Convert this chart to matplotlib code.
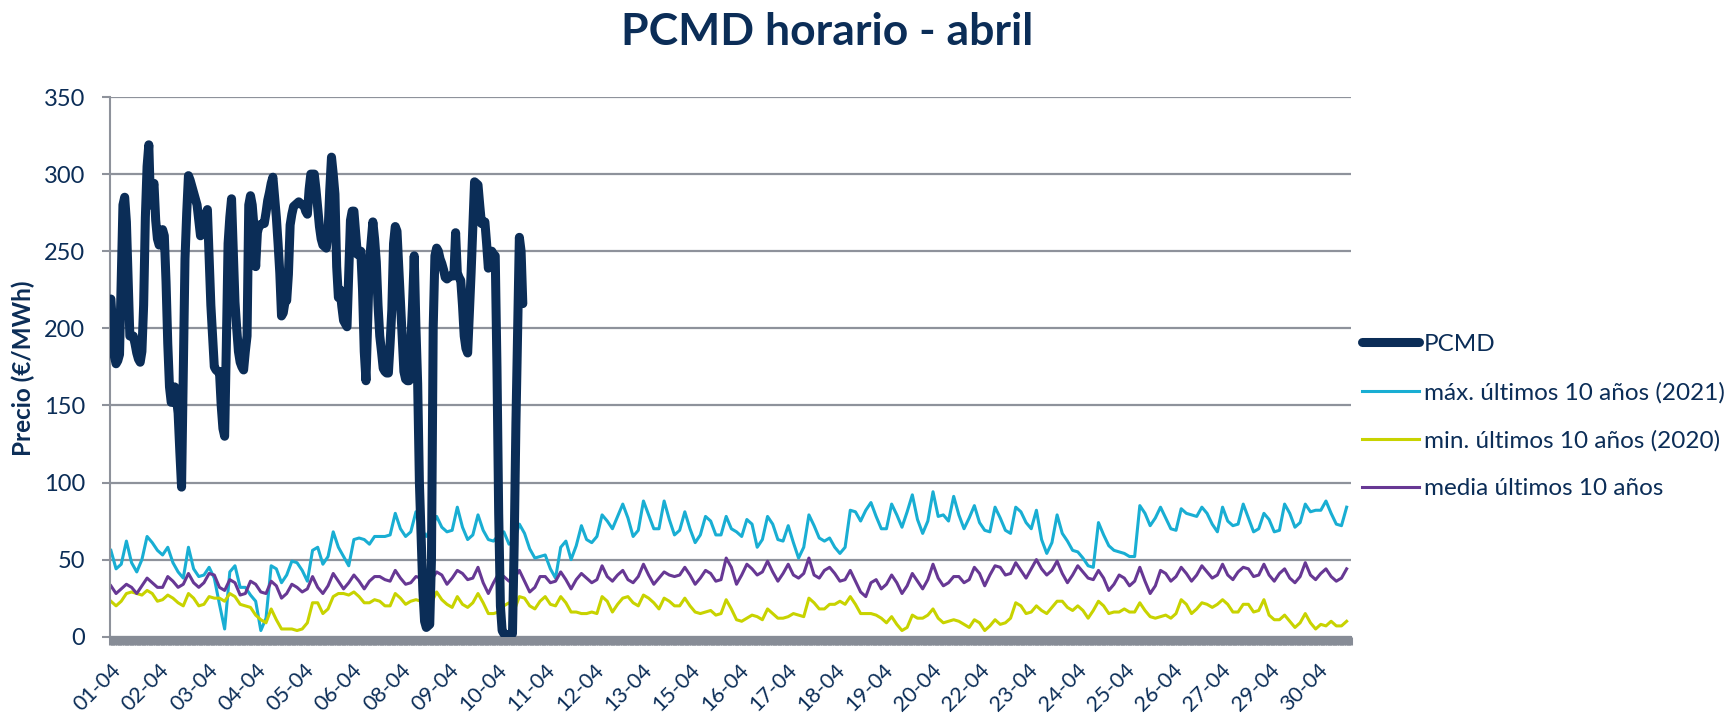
import numpy as np
import matplotlib
matplotlib.use("Agg")
import matplotlib.pyplot as plt
from matplotlib.lines import Line2D

plt.rcParams['font.family'] = ['Lato', 'DejaVu Sans']

NAVY = "#0B2D57"
CYAN = "#19AED3"
YELLOW = "#C8D300"
PURPLE = "#673894"
GRID = "#8E929B"

# PCMD, hourly values 01-04 .. 10-04 (EUR/MWh)
pcmd = [
    219, 200, 182, 177, 179, 183, 230, 280, 285, 269, 232, 195, 195, 195, 190, 184, 180, 178, 185, 215, 272, 305, 319, 280,
    290, 294, 270, 258, 254, 256, 264, 260, 230, 190, 162, 152, 152, 162, 155, 145, 120, 97, 170, 245, 275, 299, 296, 292,
    288, 284, 280, 270, 260, 262, 270, 274, 277, 245, 215, 195, 175, 173, 172, 172, 150, 135, 130, 190, 255, 272, 284, 250,
    217, 200, 185, 178, 175, 173, 185, 195, 280, 286, 280, 266, 240, 262, 267, 267, 268, 268, 275, 283, 288, 294, 298, 285,
    272, 255, 236, 208, 210, 217, 218, 235, 267, 274, 279, 280, 281, 282, 281, 280, 280, 276, 274, 290, 300, 300, 300, 290,
    278, 266, 258, 254, 253, 252, 262, 290, 311, 300, 287, 240, 220, 225, 214, 205, 203, 201, 235, 270, 276, 276, 262, 248,
    248, 250, 225, 185, 166, 205, 243, 256, 269, 258, 243, 215, 195, 185, 174, 172, 171, 171, 190, 212, 255, 266, 263, 240,
    217, 195, 172, 167, 166, 166, 190, 215, 247, 200, 164, 100, 65, 30, 10, 6, 7, 8, 50, 200, 247, 252, 250, 245,
    242, 238, 233, 232, 233, 234, 234, 234, 262, 236, 233, 231, 215, 195, 187, 184, 210, 236, 265, 295, 294, 293, 280, 268,
    268, 269, 255, 239, 245, 250, 248, 247, 175, 80, 20, 4, 2, 1, 1, 1, 2, 2, 60, 138, 200, 259, 250, 216,
]

# historical series, one value every 3 hours (8 per day)
max_2021 = [
    56, 44, 47, 62, 48, 42, 50, 65,
    61, 56, 53, 58, 48, 42, 38, 58,
    44, 39, 40, 45, 38, 21, 5, 42,
    46, 32, 32, 27, 23, 4, 12, 46,
    44, 35, 40, 49, 48, 43, 36, 56,
    58, 47, 52, 68, 58, 52, 46, 63,
    64, 63, 60, 65, 65, 65, 66, 80,
    70, 65, 68, 81, 70, 65, 71, 78,
    71, 68, 69, 84, 71, 63, 66, 79,
    69, 63, 62, 66, 68, 60, 62, 73,
    67, 57, 51, 52, 53, 44, 38, 58,
    62, 50, 59, 72, 63, 61, 65, 79,
    75, 70, 78, 86, 77, 65, 69, 88,
    79, 70, 70, 88, 76, 66, 69, 81,
    70, 61, 66, 78, 75, 66, 66, 78,
    70, 68, 65, 76, 73, 58, 63, 78,
    73, 63, 62, 72, 61, 51, 58, 79,
    72, 64, 62, 64, 58, 54, 58, 82,
    81, 75, 82, 87, 78, 70, 70, 86,
    79, 71, 81, 92, 76, 67, 75, 94,
    78, 79, 75, 91, 79, 70, 77, 85,
    74, 69, 68, 84, 77, 69, 67, 84,
    81, 74, 70, 82, 63, 54, 61, 79,
    67, 62, 56, 55, 51, 46, 45, 74,
    66, 59, 56, 55, 54, 52, 52, 85,
    80, 72, 77, 84, 77, 70, 69, 83,
    80, 79, 78, 84, 80, 73, 68, 84,
    75, 72, 73, 86, 77, 68, 70, 80,
    76, 68, 69, 86, 80, 71, 74, 86,
    81, 82, 82, 88, 80, 73, 72, 84,
]

min_2020 = [
    23, 20, 23, 28, 29, 28, 27, 30,
    28, 23, 24, 27, 25, 22, 20, 28,
    25, 20, 21, 26, 25, 25, 23, 28,
    26, 21, 20, 19, 14, 11, 9, 18,
    11, 5, 5, 5, 4, 5, 9, 22,
    22, 15, 18, 26, 28, 28, 27, 29,
    26, 22, 22, 24, 23, 20, 20, 28,
    25, 21, 23, 24, 23, 24, 22, 29,
    24, 21, 19, 26, 21, 19, 22, 28,
    22, 15, 15, 16, 20, 22, 17, 26,
    25, 20, 18, 23, 26, 21, 20, 26,
    22, 16, 16, 15, 15, 16, 15, 26,
    23, 16, 21, 25, 26, 22, 20, 27,
    25, 22, 18, 25, 23, 20, 20, 25,
    20, 16, 15, 16, 17, 14, 15, 24,
    18, 11, 10, 12, 14, 13, 11, 18,
    15, 12, 12, 13, 15, 14, 13, 25,
    22, 18, 18, 21, 21, 23, 21, 26,
    21, 15, 15, 15, 14, 12, 9, 13,
    8, 4, 6, 14, 12, 12, 14, 18,
    12, 9, 10, 11, 10, 8, 6, 11,
    9, 4, 7, 11, 8, 9, 12, 22,
    20, 15, 16, 20, 17, 15, 19, 23,
    23, 19, 17, 20, 17, 12, 17, 23,
    20, 15, 16, 16, 18, 16, 16, 22,
    17, 13, 12, 13, 14, 12, 15, 24,
    21, 15, 18, 22, 21, 19, 21, 24,
    21, 16, 16, 21, 21, 16, 17, 24,
    14, 11, 11, 14, 10, 6, 9, 15,
    9, 5, 8, 7, 10, 7, 7, 10,
]

media_10 = [
    33, 28, 31, 34, 32, 28, 33, 38,
    35, 32, 32, 39, 36, 32, 34, 41,
    35, 32, 35, 41, 40, 32, 30, 37,
    35, 27, 28, 36, 34, 29, 28, 36,
    33, 25, 28, 34, 32, 29, 31, 39,
    32, 28, 33, 41, 36, 31, 35, 40,
    36, 31, 36, 39, 39, 37, 36, 43,
    38, 34, 35, 39, 38, 35, 37, 42,
    40, 34, 38, 43, 41, 37, 38, 45,
    35, 28, 35, 41, 39, 36, 38, 43,
    36, 29, 32, 39, 39, 35, 36, 42,
    37, 31, 37, 41, 38, 35, 37, 46,
    39, 36, 40, 43, 37, 35, 39, 47,
    40, 34, 38, 42, 40, 39, 40, 45,
    40, 34, 38, 43, 41, 36, 37, 51,
    45, 34, 40, 47, 44, 40, 42, 49,
    42, 36, 41, 47, 40, 38, 41, 51,
    40, 38, 43, 45, 41, 36, 37, 43,
    36, 29, 26, 35, 37, 31, 34, 40,
    35, 28, 33, 41, 36, 31, 37, 47,
    38, 33, 35, 39, 39, 35, 37, 45,
    41, 33, 40, 46, 45, 40, 41, 48,
    43, 38, 44, 50, 44, 40, 43, 49,
    41, 35, 40, 46, 42, 38, 37, 43,
    38, 30, 34, 40, 38, 33, 36, 45,
    36, 28, 33, 43, 41, 36, 39, 45,
    41, 36, 40, 46, 42, 38, 40, 47,
    40, 37, 42, 45, 44, 39, 40, 47,
    40, 36, 41, 44, 38, 35, 39, 48,
    40, 37, 41, 44, 39, 36, 38, 44,
]

tick_labels = ["01-04", "02-04", "03-04", "04-04", "05-04", "06-04", "08-04", "09-04",
               "10-04", "11-04", "12-04", "13-04", "15-04", "16-04", "17-04", "18-04",
               "19-04", "20-04", "22-04", "23-04", "24-04", "25-04", "26-04", "27-04",
               "29-04", "30-04"]
n_hours = 720
label_step = 28

hours_pcmd = np.arange(len(pcmd))
hours_hist = np.arange(len(max_2021)) * 3

fig = plt.figure(figsize=(17.3, 7.17), dpi=100)
ax = fig.add_axes([0.0636, 0.112, 0.7173, 0.7527])

ax.plot(hours_hist, max_2021, color=CYAN, lw=2.2, label="máx. últimos 10 años (2021)")
ax.plot(hours_hist, min_2020, color=YELLOW, lw=2.2, label="min. últimos 10 años (2020)")
ax.plot(hours_hist, media_10, color=PURPLE, lw=2.2, label="media últimos 10 años")
ax.plot(hours_pcmd, pcmd, color=NAVY, lw=6.5, solid_joinstyle="round",
        solid_capstyle="round", label="PCMD", zorder=5)

ax.set_xlim(-0.5, n_hours - 0.5)
ax.set_ylim(0, 350)
ax.set_yticks(range(0, 351, 50))
ax.yaxis.grid(True, color=GRID, lw=1.6)
ax.set_axisbelow(True)

for s in ["top", "right"]:
    ax.spines[s].set_visible(False)
ax.spines["left"].set_color(GRID)
ax.spines["left"].set_linewidth(1.5)
ax.spines["bottom"].set_color("#878C96")
ax.spines["bottom"].set_linewidth(1.5)

ax.tick_params(axis="y", colors=GRID, length=6, width=1.5, pad=12,
               labelcolor=NAVY, labelsize=17)
ax.set_xticks(np.arange(0, n_hours, label_step))
ax.set_xticklabels(tick_labels, rotation=45, ha="right", va="top",
                   rotation_mode="anchor", color=NAVY, fontsize=15.5)
ax.tick_params(axis="x", which="major", length=0, pad=17)
ax.set_xticks(np.arange(n_hours + 1) - 0.5, minor=True)
ax.tick_params(axis="x", which="minor", length=6, width=2.2, color="#878C96")

fig.text(827 / 1730, 1 - 32 / 717, "PCMD horario - abril", ha="center", va="center",
         fontsize=32, fontweight="bold", color=NAVY)
fig.text(23 / 1730, 1 - 368 / 717, "Precio (€/MWh)", rotation=90, ha="center",
         va="center", fontsize=17.5, fontweight="bold", color=NAVY)

handles = [
    Line2D([], [], color=NAVY, lw=6.5, solid_capstyle="round"),
    Line2D([], [], color=CYAN, lw=2.2),
    Line2D([], [], color=YELLOW, lw=2.2),
    Line2D([], [], color=PURPLE, lw=2.2),
]
labels = ["PCMD", "máx. últimos 10 años (2021)", "min. últimos 10 años (2020)",
          "media últimos 10 años"]
fig.legend(handles, labels, loc="center left", bbox_to_anchor=(1362 / 1730, 0.419),
           frameon=False, fontsize=17.5, labelcolor=NAVY, handlelength=2.35,
           handletextpad=0.2, labelspacing=1.1, borderpad=0, borderaxespad=0)

fig.savefig("out.png", dpi=100)
